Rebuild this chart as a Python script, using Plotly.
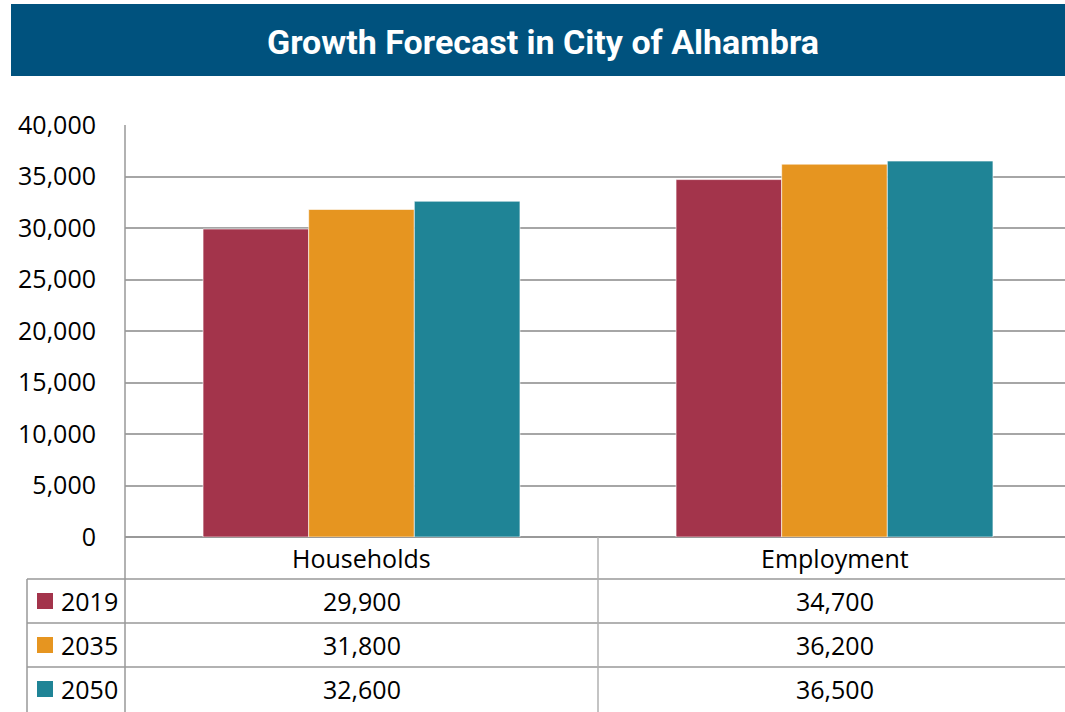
import plotly.graph_objects as go

categories = ["Households", "Employment"]
years = ["2019", "2035", "2050"]
values_2019 = [29900, 34700]
values_2035 = [31800, 36200]
values_2050 = [32600, 36500]
colors = ["#A3344B", "#E69520", "#1F8496"]
title = "Growth Forecast in City of Alhambra"

series = [values_2019, values_2035, values_2050]

W, H = 1065, 712
L, R, T, B = 125, 0, 125, 175
pw, ph = W - L - R, H - T - B
FS = 25
CAT_PX = 473  # pixel width of one category slot

def px(x):
    return (x - L) / pw

def py(y):
    return (H - B - y) / ph

fig = go.Figure()
for yr, vals, col in zip(years, series, colors):
    fig.add_trace(go.Bar(
        x=categories, y=vals, name=yr,
        marker=dict(color=col, line=dict(color="rgba(255,255,255,0.6)", width=1)),
        showlegend=False,
    ))

grid = "#A6A6A6"
line = "#999999"
shapes = []
# banner
shapes.append(dict(type="rect", xref="paper", yref="paper",
                   x0=px(11), x1=1.0, y0=py(76), y1=py(4),
                   fillcolor="#00527E", line=dict(width=0), layer="below"))
# table horizontal lines
for yy in [579, 623, 667]:
    shapes.append(dict(type="line", xref="paper", yref="paper",
                       x0=px(27), x1=1.0, y0=py(yy), y1=py(yy),
                       line=dict(color=line, width=1.5)))
# vertical lines
shapes.append(dict(type="line", xref="paper", yref="paper",
                   x0=px(27), x1=px(27), y0=py(579), y1=py(H),
                   line=dict(color=line, width=1.5)))
shapes.append(dict(type="line", xref="paper", yref="paper",
                   x0=0, x1=0, y0=1, y1=py(H),
                   line=dict(color=line, width=1.5)))
shapes.append(dict(type="line", xref="x", yref="paper",
                   x0=0.5, x1=0.5, y0=0, y1=py(H),
                   line=dict(color="#B0B0B0", width=1.5)))

annotations = []
annotations.append(dict(text="<b>" + title + "</b>", xref="paper", yref="paper",
                        x=px(543), y=py(42),
                        showarrow=False, xanchor="center", yanchor="middle",
                        font=dict(family="Roboto", size=34, color="white")))
# header row
for c in categories:
    annotations.append(dict(text=c, xref="x", yref="paper", x=c, y=py(558),
                            showarrow=False, yanchor="middle",
                            font=dict(family="Open Sans", size=FS, color="black")))
row_y = [601, 645, 689]
for ry, yr, vals, col in zip(row_y, years, series, colors):
    shapes.append(dict(type="rect", xref="paper", yref="paper",
                       x0=px(37), x1=px(53), y0=py(ry - 8), y1=py(ry + 8),
                       fillcolor=col, line=dict(width=0)))
    annotations.append(dict(text=yr, xref="paper", yref="paper", x=px(59), y=py(ry),
                            xanchor="left", yanchor="middle", showarrow=False,
                            font=dict(family="Open Sans", size=FS, color="black")))
    for c, v in zip(categories, vals):
        annotations.append(dict(text=f"{v:,}", xref="x", yref="paper", x=c, y=py(ry),
                                showarrow=False, yanchor="middle",
                                font=dict(family="Open Sans", size=FS, color="black")))

fig.update_layout(
    width=W, height=H,
    margin=dict(l=L, r=R, t=T, b=B, pad=0),
    paper_bgcolor="white", plot_bgcolor="white",
    barmode="group", bargap=0.33, bargroupgap=0,
    shapes=shapes, annotations=annotations,
    font=dict(family="Open Sans", size=FS, color="black"),
)
fig.update_xaxes(showticklabels=False, showgrid=False, zeroline=False,
                 showline=False, range=[-0.5, -0.5 + pw / CAT_PX])
fig.update_yaxes(range=[0, 40000], dtick=5000, tickformat=",",
                 showgrid=True, gridcolor=grid, gridwidth=1.5,
                 zeroline=True, zerolinecolor=line, zerolinewidth=1.5,
                 showline=False, ticklabelstandoff=28,
                 tickfont=dict(family="Open Sans", size=FS, color="black"))

fig.write_html("out.html", config={"displayModeBar": False},
               post_script="document.body.style.margin='0';")
